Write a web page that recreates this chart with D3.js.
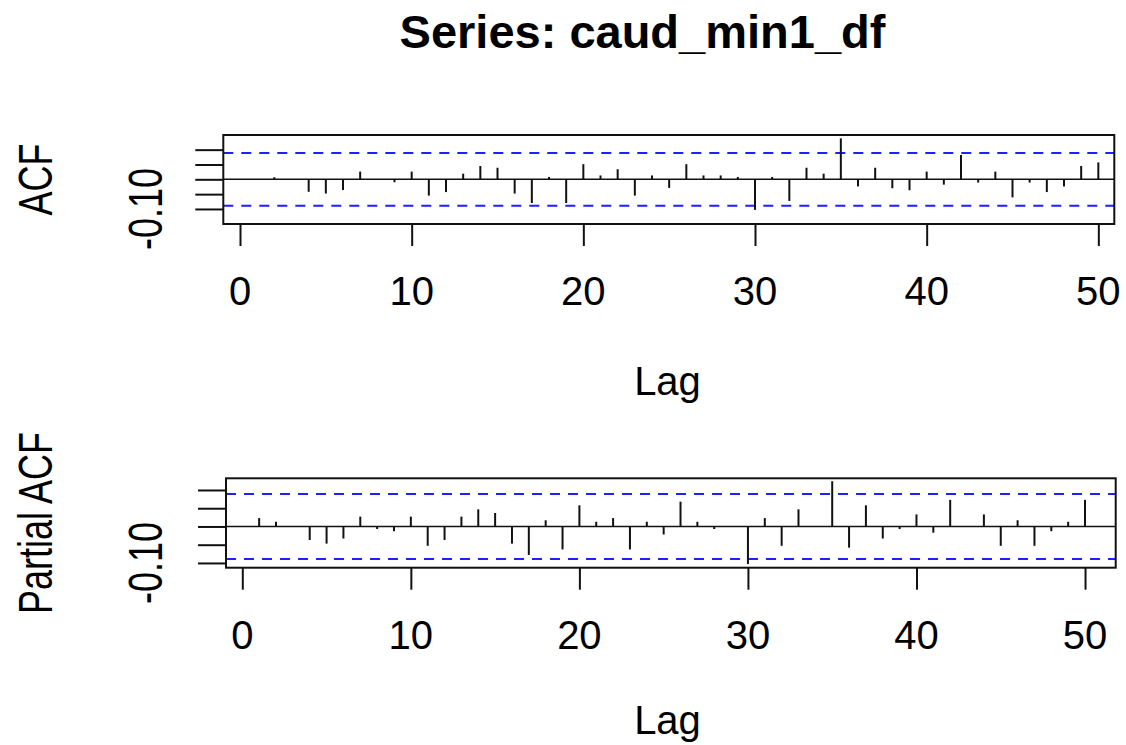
<!DOCTYPE html>
<html>
<head>
<meta charset="utf-8">
<script src="https://cdn.jsdelivr.net/npm/d3@7"></script>
<style>
  body { margin: 0; background: #fff; }
  text { font-family: "Liberation Sans", Arial, sans-serif; fill: #000; }
</style>
</head>
<body>
<svg id="chart" width="1126" height="745"></svg>
<script>
// values
let titleText = "Series: caud_min1_df";
let lags = [1, 2, 3, 4, 5, 6, 7, 8, 9, 10, 11, 12, 13, 14, 15, 16, 17, 18, 19, 20,
  21, 22, 23, 24, 25, 26, 27, 28, 29, 30, 31, 32, 33, 34, 35, 36, 37, 38, 39, 40,
  41, 42, 43, 44, 45, 46, 47, 48, 49, 50];
let acfValues = [0.001, 0.007, 0.001, -0.042, -0.048, -0.036, 0.026, 0.001, -0.010, 0.026,
  -0.055, -0.043, 0.019, 0.045, 0.039, -0.048, -0.080, 0.008, -0.080, 0.051,
  0.013, 0.034, -0.055, 0.013, -0.029, 0.051, 0.013, 0.013, 0.008, -0.103,
  0.008, -0.073, 0.039, 0.019, 0.138, -0.024, 0.039, -0.030, -0.037, 0.026,
  -0.018, 0.082, -0.011, 0.026, -0.061, -0.011, -0.043, -0.024, 0.045, 0.057];
let pacfValues = [0.023, 0.013, 0.001, -0.037, -0.047, -0.033, 0.027, -0.007, -0.013, 0.027,
  -0.053, -0.037, 0.027, 0.047, 0.037, -0.047, -0.078, 0.017, -0.063, 0.058,
  0.013, 0.023, -0.063, 0.013, -0.022, 0.068, 0.013, -0.007, 0.001, -0.103,
  0.023, -0.053, 0.047, 0.001, 0.124, -0.058, 0.058, -0.033, -0.007, 0.033,
  -0.017, 0.073, 0.001, 0.033, -0.053, 0.017, -0.053, -0.013, 0.013, 0.073];
let confLimit = 0.089;
let xTicks = [0, 10, 20, 30, 40, 50];
let yTicks = [-0.10, -0.05, 0, 0.05, 0.10];
let yTickLabels = ["-0.10"];   // R drops the others (overlap)
let xLabel = "Lag";

let svg = d3.select("#chart");

svg.append("text")
  .attr("x", 642.5).attr("y", 48)
  .attr("text-anchor", "middle")
  .style("font-size", "47px").style("font-weight", "bold")
  .text(titleText);

let panels = [
  {values: acfValues, ylab: "ACF", labGap: 171,
   box: {left: 223.3, right: 1114.3, top: 135, bottom: 224},
   xDomain: [-0.973, 50.93], yDomain: [-0.1507, 0.1494]},
  {values: pacfValues, ylab: "Partial ACF", labGap: 166,
   box: {left: 226, right: 1115.7, top: 478.3, bottom: 567.7},
   xDomain: [-0.967, 51.82], yDomain: [-0.113, 0.132]}
];

panels.forEach(function(p) {
  let b = p.box;
  let x = d3.scaleLinear().domain(p.xDomain).range([b.left, b.right]);
  let y = d3.scaleLinear().domain(p.yDomain).range([b.bottom, b.top]);
  let g = svg.append("g");

  // zero line
  g.append("line")
    .attr("x1", b.left).attr("x2", b.right)
    .attr("y1", y(0)).attr("y2", y(0))
    .attr("stroke", "#111").attr("stroke-width", 1.6);

  // confidence bounds
  [confLimit, -confLimit].forEach(function(c) {
    g.append("line")
      .attr("x1", b.left).attr("x2", b.right)
      .attr("y1", y(c)).attr("y2", y(c))
      .attr("stroke", "#1f1fff").attr("stroke-width", 2)
      .attr("stroke-dasharray", "10,8");
  });

  // spikes
  g.selectAll(".spike").data(lags).enter().append("line")
    .attr("class", "spike")
    .attr("x1", d => x(d)).attr("x2", d => x(d))
    .attr("y1", y(0)).attr("y2", (d, i) => y(p.values[i]))
    .attr("stroke", "#111").attr("stroke-width", 2);

  // box
  g.append("rect")
    .attr("x", b.left).attr("y", b.top)
    .attr("width", b.right - b.left).attr("height", b.bottom - b.top)
    .attr("fill", "none").attr("stroke", "#111").attr("stroke-width", 2);

  // x axis
  let xAxis = d3.axisBottom(x).tickValues(xTicks).tickSize(22).tickFormat("");
  let xa = g.append("g").attr("transform", "translate(0," + b.bottom + ")").call(xAxis);
  xa.select(".domain").remove();
  xa.selectAll(".tick line").attr("stroke", "#111").attr("stroke-width", 2);
  g.selectAll(".xlab").data(xTicks).enter().append("text")
    .attr("class", "xlab")
    .attr("x", d => x(d)).attr("y", b.bottom + 81)
    .attr("text-anchor", "middle")
    .style("font-size", "40px")
    .text(d => d);

  g.append("text")
    .attr("x", 667.5).attr("y", b.bottom + p.labGap)
    .attr("text-anchor", "middle")
    .style("font-size", "40px")
    .text(xLabel);

  // y axis
  let yAxis = d3.axisLeft(y).tickValues(yTicks).tickSize(28).tickFormat("");
  let ya = g.append("g").attr("transform", "translate(" + b.left + ",0)").call(yAxis);
  ya.select(".domain").remove();
  ya.selectAll(".tick line").attr("stroke", "#111").attr("stroke-width", 2);
  yTickLabels.forEach(function(lab) {
    g.append("text")
      .attr("transform", "translate(162," + y(+lab) + ") rotate(-90) scale(1,1.35)")
      .attr("text-anchor", "middle")
      .style("font-size", "36px")
      .text(lab);
  });

  g.append("text")
    .attr("transform", "translate(52," + (b.top + b.bottom) / 2 + ") rotate(-90) scale(1,1.35)")
    .attr("text-anchor", "middle")
    .style("font-size", "36px")
    .text(p.ylab);
});
</script>
</body>
</html>
